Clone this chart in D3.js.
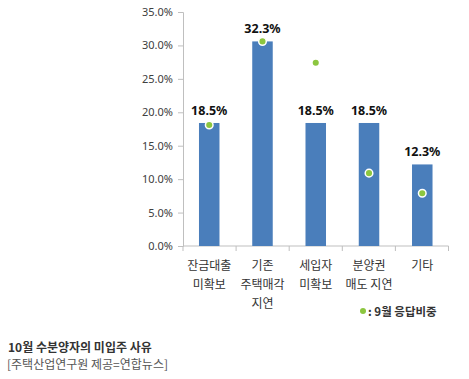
<!DOCTYPE html>
<html>
<head>
<meta charset="utf-8">
<script src="https://cdn.jsdelivr.net/npm/d3@7"></script>
<style>
  body { margin: 0; background: #fff; }
  svg { display: block; font-family: "Noto Sans CJK KR", "Noto Sans", sans-serif; }
</style>
</head>
<body>
<svg id="chart" width="469" height="379"></svg>
<script>
// chart data
const categories = [["잔금대출", "미확보"], ["기존", "주택매각", "지연"], ["세입자", "미확보"], ["분양권", "매도 지연"], ["기타"]];
const barValues = [18.4, 30.6, 18.4, 18.4, 12.2];
const barLabels = ["18.5%", "32.3%", "18.5%", "18.5%", "12.3%"];
const septValues = [18.1, 30.6, 27.4, 10.9, 7.9];
const yTicks = [0, 5, 10, 15, 20, 25, 30, 35];

const svg = d3.select("#chart");

const x = d3.scaleBand().domain(d3.range(categories.length)).range([183, 448.5]).paddingInner(0.615).paddingOuter(0.3);
const y = d3.scaleLinear().domain([0, 35]).range([246, 12]);

// y axis
const yAxis = svg.append("g").attr("transform", "translate(183,0)")
  .call(d3.axisLeft(y).tickValues(yTicks).tickSize(5).tickPadding(5).tickFormat(d => d.toFixed(1) + "%"));
yAxis.selectAll("path, line").attr("stroke", "#bfbfbf");
yAxis.selectAll("text").attr("fill", "#404040").style("font-size", "11px").style("font-family", "'Noto Sans', sans-serif");

// x axis line and tick marks between categories
const xg = svg.append("g");
xg.append("line").attr("x1", 183).attr("x2", 448.5).attr("y1", y(0)).attr("y2", y(0)).attr("stroke", "#bfbfbf");
xg.selectAll("line.tk").data(d3.range(categories.length + 1)).join("line")
  .attr("class", "tk")
  .attr("x1", i => 183 + i * (265.5 / categories.length))
  .attr("x2", i => 183 + i * (265.5 / categories.length))
  .attr("y1", y(0)).attr("y2", y(0) + 5)
  .attr("stroke", "#bfbfbf");

// bars
svg.selectAll("rect.bar").data(barValues).join("rect")
  .attr("class", "bar")
  .attr("x", (d, i) => x(i))
  .attr("width", x.bandwidth())
  .attr("y", d => y(d))
  .attr("height", d => y(0) - y(d))
  .attr("fill", "#4a7ebb");

// value labels
svg.selectAll("text.val").data(barLabels).join("text")
  .attr("class", "val")
  .attr("x", (d, i) => x(i) + x.bandwidth() / 2)
  .attr("y", (d, i) => y(barValues[i]) - 8)
  .attr("text-anchor", "middle")
  .attr("fill", "#111")
  .style("font-size", "12.5px")
  .style("font-weight", "bold")
  .style("font-family", "'Noto Sans', sans-serif")
  .text(d => d);

// september dots
svg.selectAll("circle.sep").data(septValues).join("circle")
  .attr("class", "sep")
  .attr("cx", (d, i) => x(i) + x.bandwidth() / 2)
  .attr("cy", d => y(d))
  .attr("r", 3.8)
  .attr("fill", "#8cc63f")
  .attr("stroke", "#fff")
  .attr("stroke-width", 1.5);

// category labels
categories.forEach((lines, i) => {
  const cx = x(i) + x.bandwidth() / 2;
  lines.forEach((t, j) => {
    svg.append("text")
      .attr("x", cx)
      .attr("y", 270 + j * 19)
      .attr("text-anchor", "middle")
      .attr("fill", "#333")
      .style("font-size", "12px")
      .text(t);
  });
});

// legend
svg.append("circle").attr("cx", 363).attr("cy", 311).attr("r", 3).attr("fill", "#8cc63f");
svg.append("text").attr("x", 368).attr("y", 315.5)
  .attr("fill", "#333").style("font-size", "11.5px").style("font-weight", "bold")
  .text(": 9월 응답비중");

// caption
svg.append("text").attr("x", 8).attr("y", 352)
  .attr("fill", "#333").style("font-size", "12px").style("font-weight", "bold")
  .text("10월 수분양자의 미입주 사유");
svg.append("text").attr("x", 7).attr("y", 369)
  .attr("fill", "#555").style("font-size", "12px")
  .text("[주택산업연구원 제공=연합뉴스]");
</script>
</body>
</html>
